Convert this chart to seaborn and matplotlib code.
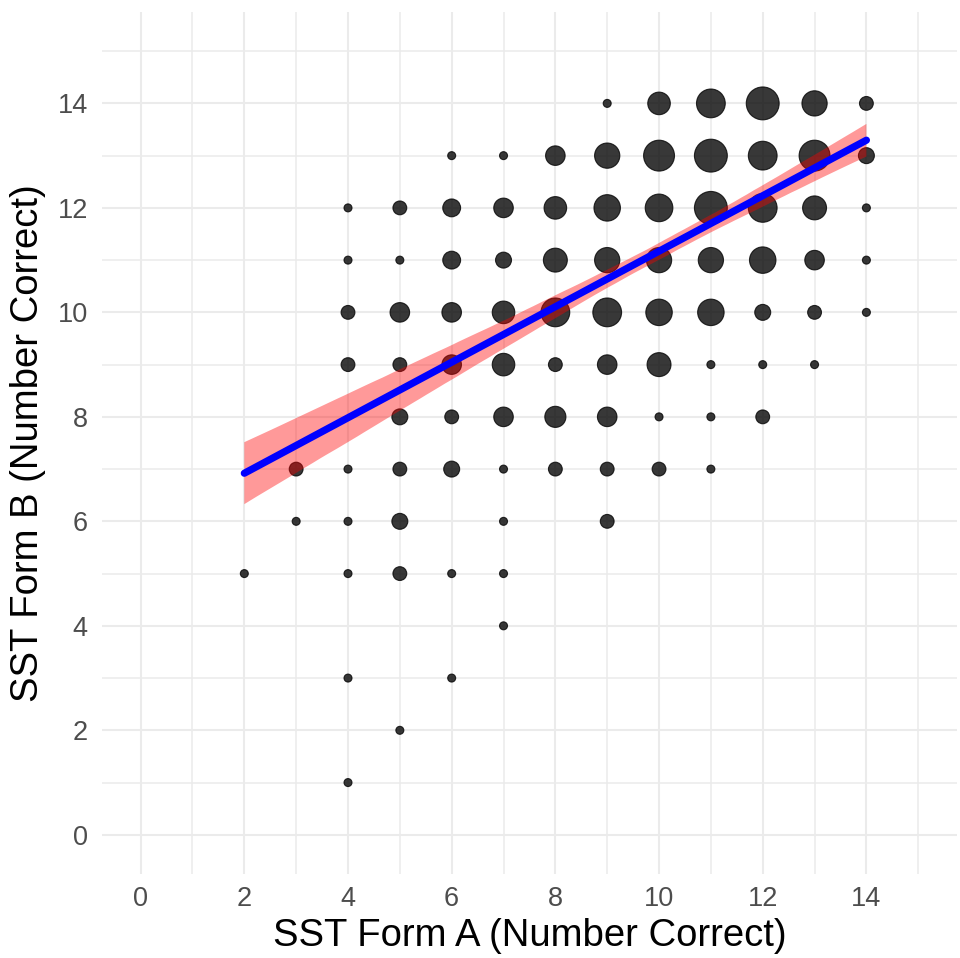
import numpy as np
import pandas as pd
import matplotlib
matplotlib.use("Agg")
import matplotlib.pyplot as plt
import seaborn as sns
from matplotlib.ticker import MultipleLocator

# ---- data: (Form A score, Form B score, number of participants) ----
form_a = [9, 10, 11, 12, 13, 14,
          6, 7, 8, 9, 10, 11, 12, 13, 14,
          4, 5, 6, 7, 8, 9, 10, 11, 12, 13, 14,
          4, 5, 6, 7, 8, 9, 10, 11, 12, 13, 14,
          4, 5, 6, 7, 8, 9, 10, 11, 12, 13, 14,
          4, 5, 6, 7, 8, 9, 10, 11, 12, 13,
          5, 6, 7, 8, 9, 10, 11, 12,
          3, 4, 5, 6, 7, 8, 9, 10, 11,
          3, 4, 5, 7, 9,
          2, 4, 5, 6, 7,
          7,
          4, 6,
          5,
          4]
form_b = [14, 14, 14, 14, 14, 14,
          13, 13, 13, 13, 13, 13, 13, 13, 13,
          12, 12, 12, 12, 12, 12, 12, 12, 12, 12, 12,
          11, 11, 11, 11, 11, 11, 11, 11, 11, 11, 11,
          10, 10, 10, 10, 10, 10, 10, 10, 10, 10, 10,
          9, 9, 9, 9, 9, 9, 9, 9, 9, 9,
          8, 8, 8, 8, 8, 8, 8, 8,
          7, 7, 7, 7, 7, 7, 7, 7, 7,
          6, 6, 6, 6, 6,
          5, 5, 5, 5, 5,
          4,
          3, 3,
          2,
          1]
counts = [1, 8, 13, 17, 10, 3,
          1, 1, 6, 10, 15, 17, 13, 15, 4,
          1, 3, 5, 6, 8, 11, 12, 17, 13, 9, 1,
          1, 1, 5, 4, 9, 10, 10, 10, 11, 6, 1,
          3, 6, 6, 8, 13, 13, 11, 11, 4, 3, 1,
          3, 3, 6, 8, 3, 6, 9, 1, 1, 1,
          4, 3, 6, 7, 6, 1, 1, 3,
          3, 1, 3, 4, 1, 3, 3, 3, 1,
          1, 1, 4, 1, 3,
          1, 1, 3, 1, 1,
          1,
          1, 1,
          1,
          1]

x_ticks = [0, 2, 4, 6, 8, 10, 12, 14]
y_ticks = [0, 2, 4, 6, 8, 10, 12, 14]

df = pd.DataFrame({"A": form_a, "B": form_b, "n": counts})
raw = df.loc[df.index.repeat(df["n"])].reset_index(drop=True)

sns.set_theme(style="white")
plt.rcParams["font.family"] = ["Liberation Sans", "DejaVu Sans"]

fig = plt.figure(figsize=(9.6, 9.58), dpi=100)
ax = fig.add_axes([0.106, 0.0877, 0.891, 0.8998])

sns.scatterplot(data=df, x="A", y="B", size="n", sizes=(33, 33 * 17),
                size_norm=(1, 17), color="black", alpha=0.78,
                edgecolor="black", linewidth=0.8, legend=False, ax=ax,
                zorder=3)

sns.regplot(data=raw, x="A", y="B", scatter=False, ci=95, seed=3,
            n_boot=2000, color="red", line_kws={"lw": 5.2}, ax=ax)
line = ax.lines[-1]
line.set_color("blue")
line.set_zorder(5)
band = ax.collections[-1]
band.set_facecolor("red")
band.set_alpha(0.4)
band.set_edgecolor("none")
band.set_zorder(4)

ax.set_xlim(-0.75, 15.75)
ax.set_ylim(-0.75, 15.75)
ax.set_xticks(x_ticks)
ax.set_yticks(y_ticks)
ax.xaxis.set_minor_locator(MultipleLocator(1))
ax.yaxis.set_minor_locator(MultipleLocator(1))
ax.grid(which="major", color="#EBEBEB", linewidth=1.5, zorder=0)
ax.grid(which="minor", color="#EBEBEB", linewidth=1.1, zorder=0)
ax.set_axisbelow(True)
for s in ax.spines.values():
    s.set_visible(False)
ax.tick_params(which="both", length=0)
ax.tick_params(axis="x", labelsize=19.5, labelcolor="#4D4D4D", pad=9)
ax.tick_params(axis="y", labelsize=19.5, labelcolor="#4D4D4D", pad=10)
ax.set_xlabel("SST Form A (Number Correct)", fontsize=27.5, color="black", labelpad=4)
ax.set_ylabel("SST Form B (Number Correct)", fontsize=27.5, color="black", labelpad=8)

fig.savefig("out.png", dpi=100, facecolor="white")
